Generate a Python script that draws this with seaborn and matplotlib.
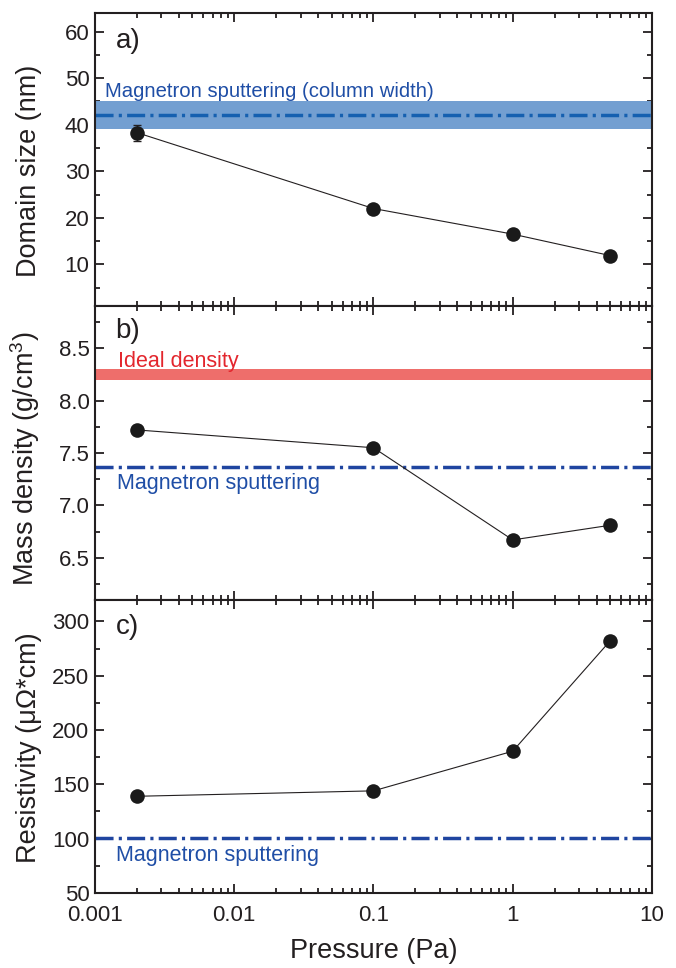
import numpy as np
import pandas as pd
import seaborn as sns
import matplotlib.pyplot as plt
from matplotlib.ticker import FixedLocator, FixedFormatter, MultipleLocator, LogLocator, NullFormatter

# pressure (Pa) shared by all panels
pressure = [0.002, 0.1, 1, 5]

# a) domain size
domain_size = [38.3, 22.0, 16.5, 11.9]
domain_err = [1.7, 0.8, 0.6, 0.6]
column_width = 42
column_band = (39, 45)

# b) mass density
mass_density = [7.72, 7.55, 6.67, 6.81]
ideal_band = (8.2, 8.3)
sputter_density = 7.37

# c) resistivity
resistivity = [139, 144, 180.5, 282]
resist_err = [1.5, 1.5, 2.0, 4.0]
sputter_resist = 101

x_ticks = [0.001, 0.01, 0.1, 1, 10]
x_labels = ["0.001", "0.01", "0.1", "1", "10"]

sns.set_theme(style="ticks")
plt.rcParams['font.family'] = ['Liberation Sans', 'DejaVu Sans']
plt.rcParams['mathtext.default'] = 'regular'

ink = "#231f20"
blue_band = "#739fd1"
blue_a = "#1560b0"
blue_line = "#1f45a0"
blue_text = "#1f4ea6"
red_band = "#ee6e6b"
red_text = "#e3262d"
dashdot = (0, (5.2, 1.5, 0.9, 1.5))

fig, axes = plt.subplots(3, 1, figsize=(6.76, 9.68), dpi=100, sharex=True)
fig.subplots_adjust(left=0.1405, right=0.9645, top=0.9866, bottom=0.0775, hspace=0)

df = pd.DataFrame({"p": pressure, "d": domain_size, "rho": mass_density, "r": resistivity})


def style_axis(ax):
    ax.set_xscale("log")
    ax.set_xlim(0.001, 10)
    ax.xaxis.set_major_locator(FixedLocator(x_ticks))
    ax.xaxis.set_minor_locator(LogLocator(base=10, subs=np.arange(2, 10)))
    ax.xaxis.set_minor_formatter(NullFormatter())
    ax.tick_params(which="both", direction="in", top=True, right=True, colors=ink,
                   labelsize=16, width=1.3)
    ax.tick_params(which="major", length=6.5)
    ax.tick_params(which="minor", length=3.5)
    ax.tick_params(axis="x", pad=9)
    ax.tick_params(axis="y", pad=4)
    for s in ax.spines.values():
        s.set_linewidth(1.5)
        s.set_color(ink)
        s.set_zorder(5)


def draw_series(ax, y, err=None):
    sns.lineplot(data=df, x="p", y=y, ax=ax, color=ink, linewidth=0.8, zorder=3,
                 marker="o", markersize=10.5, markeredgewidth=0, markerfacecolor="#1a1a1a")
    if err is not None:
        ax.errorbar(df["p"], df[y], yerr=err, fmt="none", ecolor=ink, elinewidth=1,
                    capsize=3, capthick=1, zorder=2)


# a) domain size
ax = axes[0]
ax.axhspan(*column_band, color=blue_band, lw=0, zorder=1)
ax.axhline(column_width, color=blue_a, lw=2.5, ls=dashdot, zorder=2)
draw_series(ax, "d", domain_err)
style_axis(ax)
ax.set_ylim(1, 64)
ax.yaxis.set_major_locator(MultipleLocator(10))
ax.yaxis.set_minor_locator(MultipleLocator(5))
ax.set_ylabel("Domain size (nm)", fontsize=19.5, color=ink)
ax.yaxis.set_label_coords(-0.095, 0.461)
ax.text(0.037, 0.95, "a)", transform=ax.transAxes, fontsize=20, color=ink, va="top")
ax.text(0.00118, 46.0, "Magnetron sputtering (column width)", fontsize=14.6, color=blue_text)

# b) mass density
ax = axes[1]
ax.axhspan(*ideal_band, color=red_band, lw=0, zorder=1)
ax.axhline(sputter_density, color=blue_line, lw=2.5, ls=dashdot, zorder=2)
draw_series(ax, "rho")
style_axis(ax)
ax.set_ylim(6.1, 8.9)
ax.yaxis.set_major_locator(MultipleLocator(0.5))
ax.yaxis.set_minor_locator(MultipleLocator(0.25))
ax.set_ylabel("Mass density (g/cm$^3$)", fontsize=19.5, color=ink)
ax.yaxis.set_label_coords(-0.095, 0.48)
ax.text(0.037, 0.96, "b)", transform=ax.transAxes, fontsize=20, color=ink, va="top")
ax.text(0.00146, 8.325, "Ideal density", fontsize=15.5, color=red_text)
ax.text(0.00144, 7.16, "Magnetron sputtering", fontsize=15.5, color=blue_text)

# c) resistivity
ax = axes[2]
ax.axhline(sputter_resist, color=blue_line, lw=2.5, ls=dashdot, zorder=2)
draw_series(ax, "r", resist_err)
style_axis(ax)
ax.set_ylim(50, 320)
ax.yaxis.set_major_locator(MultipleLocator(50))
ax.yaxis.set_minor_locator(MultipleLocator(25))
ax.set_ylabel("Resistivity (μΩ*cm)", fontsize=19.5, color=ink)
ax.yaxis.set_label_coords(-0.095, 0.495)
ax.text(0.037, 0.95, "c)", transform=ax.transAxes, fontsize=20, color=ink, va="top")
ax.text(0.00141, 79, "Magnetron sputtering", fontsize=15.5, color=blue_text)
ax.xaxis.set_major_formatter(FixedFormatter(x_labels))
ax.set_xlabel("Pressure (Pa)", fontsize=19.5, color=ink, labelpad=8)

for a in axes[:2]:
    a.set_xlabel("")
    a.tick_params(labelbottom=False)

fig.savefig("out.png", dpi=100)
